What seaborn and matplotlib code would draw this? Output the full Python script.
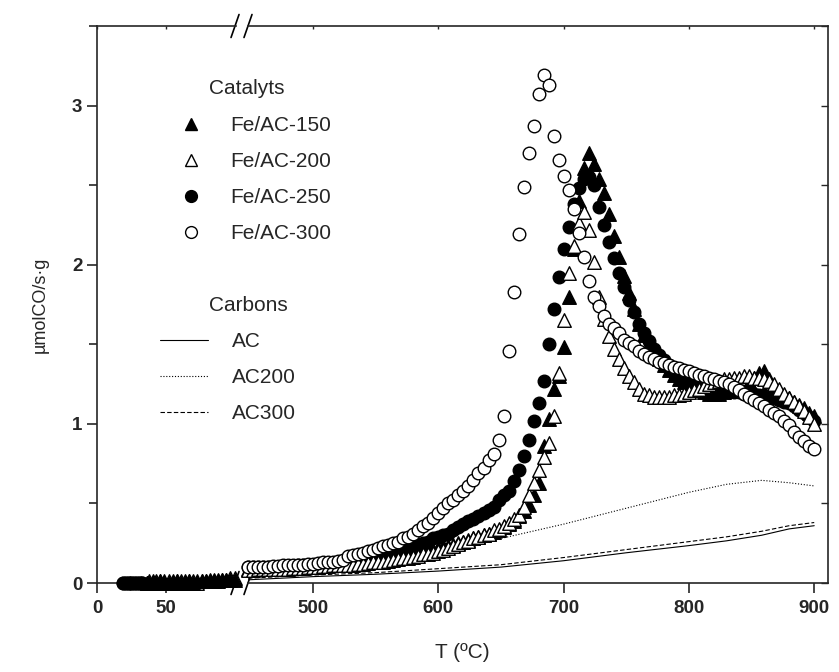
import matplotlib
matplotlib.use("Agg")
import matplotlib.pyplot as plt
from matplotlib.lines import Line2D
from matplotlib.ticker import MultipleLocator
import seaborn as sns

# ---- data ------------------------------------------------------------------
# low-temperature segment (left of the axis break)
T_LOW_TRI = [36, 38, 41, 43, 46, 49, 52, 55, 58, 61, 64, 67, 70, 73, 76, 79,
             82, 85, 88, 91, 94, 97, 100]
T_LOW_CIRC = [19, 21, 23, 25, 27, 29, 31, 33]

FE150_LOW = [0.0, 0.0, 0.01, 0.0, 0.01, 0.01, 0.0, 0.01, 0.01, 0.0, 0.01, 0.01,
             0.0, 0.01, 0.01, 0.01, 0.01, 0.02, 0.01, 0.02, 0.02, 0.02, 0.02]
FE200_LOW = [0.0, 0.01, 0.0, 0.01, 0.01, 0.0, 0.01, 0.0, 0.01, 0.01, 0.0, 0.01,
             0.01, 0.0, 0.01, 0.01, 0.02, 0.01, 0.02, 0.02, 0.02, 0.03, 0.03]
FE250_LOW = [0.0, 0.0, 0.0, 0.0, 0.0, 0.0, 0.0, 0.0]
FE300_LOW = [0.0, 0.0, 0.0, 0.0, 0.0, 0.0, 0.0, 0.0]

# high-temperature segment (right of the break), ºC
T_HIGH = [448, 452, 456, 460, 464, 468, 472, 476, 480, 484,
          488, 492, 496, 500, 504, 508, 512, 516, 520, 524,
          528, 532, 536, 540, 544, 548, 552, 556, 560, 564,
          568, 572, 576, 580, 584, 588, 592, 596, 600, 604,
          608, 612, 616, 620, 624, 628, 632, 636, 640, 644,
          648, 652, 656, 660, 664, 668, 672, 676, 680, 684,
          688, 692, 696, 700, 704, 708, 712, 716, 720, 724,
          728, 732, 736, 740, 744, 748, 752, 756, 760, 764,
          768, 772, 776, 780, 784, 788, 792, 796, 800, 804,
          808, 812, 816, 820, 824, 828, 832, 836, 840, 844,
          848, 852, 856, 860, 864, 868, 872, 876, 880, 884,
          888, 892, 896, 900]

FE150 = [0.09, 0.09, 0.09, 0.09, 0.09, 0.09, 0.095, 0.095, 0.095, 0.10,
         0.10, 0.10, 0.10, 0.105, 0.105, 0.11, 0.11, 0.11, 0.115, 0.115,
         0.12, 0.12, 0.125, 0.13, 0.13, 0.135, 0.14, 0.145, 0.15, 0.155,
         0.16, 0.165, 0.17, 0.18, 0.185, 0.19, 0.20, 0.21, 0.22, 0.23,
         0.23, 0.24, 0.25, 0.26, 0.27, 0.28, 0.29, 0.30, 0.31, 0.32,
         0.33, 0.35, 0.37, 0.39, 0.42, 0.45, 0.49, 0.55, 0.63, 0.86,
         1.03, 1.22, 1.30, 1.48, 1.80, 2.10, 2.40, 2.61, 2.70, 2.63,
         2.54, 2.45, 2.32, 2.18, 2.05, 1.93, 1.82, 1.72, 1.63, 1.56,
         1.50, 1.45, 1.41, 1.37, 1.34, 1.31, 1.28, 1.26, 1.24, 1.22,
         1.21, 1.20, 1.19, 1.19, 1.19, 1.20, 1.21, 1.22, 1.23, 1.25,
         1.27, 1.29, 1.32, 1.33, 1.28, 1.24, 1.21, 1.18, 1.16, 1.14,
         1.12, 1.10, 1.07, 1.05]

FE200 = [0.08, 0.08, 0.085, 0.085, 0.085, 0.09, 0.09, 0.09, 0.09, 0.095,
         0.095, 0.095, 0.10, 0.10, 0.10, 0.105, 0.105, 0.11, 0.11, 0.11,
         0.115, 0.115, 0.12, 0.12, 0.125, 0.13, 0.13, 0.135, 0.14, 0.145,
         0.15, 0.155, 0.16, 0.165, 0.17, 0.18, 0.185, 0.19, 0.20, 0.21,
         0.22, 0.235, 0.245, 0.255, 0.265, 0.28, 0.29, 0.30, 0.31, 0.33,
         0.34, 0.36, 0.38, 0.40, 0.43, 0.48, 0.55, 0.63, 0.71, 0.79,
         0.88, 1.05, 1.32, 1.65, 1.95, 2.12, 2.26, 2.33, 2.22, 2.02,
         1.80, 1.66, 1.55, 1.47, 1.41, 1.35, 1.30, 1.26, 1.22, 1.19,
         1.18, 1.17, 1.17, 1.17, 1.17, 1.18, 1.18, 1.19, 1.20, 1.21,
         1.22, 1.24, 1.25, 1.26, 1.27, 1.28, 1.28, 1.29, 1.29, 1.30,
         1.30, 1.29, 1.29, 1.28, 1.27, 1.25, 1.22, 1.19, 1.16, 1.14,
         1.11, 1.08, 1.04, 1.00]

FE250 = [0.10, 0.10, 0.10, 0.10, 0.10, 0.10, 0.10, 0.105, 0.105, 0.105,
         0.11, 0.11, 0.11, 0.115, 0.115, 0.12, 0.12, 0.125, 0.13, 0.13,
         0.135, 0.14, 0.145, 0.15, 0.155, 0.16, 0.165, 0.17, 0.18, 0.19,
         0.20, 0.21, 0.22, 0.23, 0.24, 0.25, 0.26, 0.28, 0.29, 0.30,
         0.31, 0.33, 0.35, 0.37, 0.39, 0.40, 0.42, 0.44, 0.46, 0.48,
         0.52, 0.55, 0.58, 0.64, 0.71, 0.80, 0.90, 1.02, 1.13, 1.27,
         1.50, 1.72, 1.92, 2.10, 2.24, 2.38, 2.48, 2.54, 2.55, 2.50,
         2.36, 2.25, 2.14, 2.04, 1.95, 1.86, 1.78, 1.70, 1.63, 1.57,
         1.52, 1.47, 1.43, 1.40, 1.37, 1.34, 1.32, 1.30, 1.28, 1.26,
         1.25, 1.24, 1.23, 1.22, 1.21, 1.21, 1.20, 1.20, 1.20, 1.19,
         1.19, 1.19, 1.18, 1.18, 1.17, 1.16, 1.15, 1.14, 1.13, 1.11,
         1.09, 1.07, 1.04, 1.02]

FE300 = [0.10, 0.10, 0.10, 0.10, 0.10, 0.105, 0.105, 0.11, 0.11, 0.11,
         0.115, 0.115, 0.12, 0.12, 0.125, 0.13, 0.13, 0.135, 0.14, 0.145,
         0.17, 0.175, 0.18, 0.19, 0.20, 0.21, 0.22, 0.23, 0.24, 0.25,
         0.26, 0.28, 0.29, 0.31, 0.33, 0.36, 0.38, 0.41, 0.44, 0.47,
         0.50, 0.52, 0.55, 0.58, 0.61, 0.65, 0.69, 0.72, 0.77, 0.81,
         0.90, 1.05, 1.46, 1.83, 2.19, 2.49, 2.70, 2.87, 3.07, 3.19,
         3.13, 2.81, 2.66, 2.56, 2.47, 2.35, 2.20, 2.05, 1.90, 1.80,
         1.74, 1.68, 1.63, 1.60, 1.57, 1.53, 1.51, 1.49, 1.46, 1.44,
         1.42, 1.41, 1.39, 1.38, 1.37, 1.36, 1.35, 1.34, 1.33, 1.32,
         1.31, 1.30, 1.29, 1.28, 1.27, 1.26, 1.25, 1.23, 1.21, 1.19,
         1.17, 1.15, 1.13, 1.11, 1.09, 1.07, 1.05, 1.02, 0.99, 0.95,
         0.92, 0.89, 0.86, 0.84]

# bare carbons (lines)
CARBON_T = [448, 500, 550, 600, 650, 700, 750, 800, 830, 858, 880, 900]
AC = [0.02, 0.04, 0.055, 0.075, 0.10, 0.14, 0.19, 0.235, 0.265, 0.30, 0.34, 0.36]
AC200 = [0.04, 0.07, 0.11, 0.17, 0.28, 0.37, 0.47, 0.57, 0.62, 0.645, 0.63, 0.61]
AC300 = [0.03, 0.05, 0.065, 0.09, 0.115, 0.16, 0.21, 0.26, 0.29, 0.325, 0.36, 0.38]

# ---- styling ----------------------------------------------------------------
sns.set_style("ticks")
plt.rcParams["font.family"] = ["Liberation Sans", "DejaVu Sans"]
plt.rcParams["axes.linewidth"] = 1.2

W, H = 839, 672
fig = plt.figure(figsize=(W / 100, H / 100), dpi=100)
bottom, top = 1 - 583 / H, 1 - 26 / H
ax_lo = fig.add_axes([97 / W, bottom, (236 - 97) / W, top - bottom])
ax_hi = fig.add_axes([248 / W, bottom, (828 - 248) / W, top - bottom])

# (label, low T, low values, high values, marker, face)
catalysts = [
    ("Fe/AC-150", T_LOW_TRI, FE150_LOW, FE150, "^", "black"),
    ("Fe/AC-200", T_LOW_TRI, FE200_LOW, FE200, "^", "white"),
    ("Fe/AC-250", T_LOW_CIRC, FE250_LOW, FE250, "o", "black"),
    ("Fe/AC-300", T_LOW_CIRC, FE300_LOW, FE300, "o", "white"),
]
# drawing order: open markers over filled ones on the right,
# filled circles on top at the low-temperature end
hi_order = [0, 2, 1, 3]
lo_order = [3, 1, 0, 2]
for z, i in enumerate(lo_order):
    label, t_lo, v_lo, v_hi, marker, face = catalysts[i]
    size = 95 if marker == "^" else 82
    sns.scatterplot(x=t_lo, y=v_lo, ax=ax_lo, marker=marker, s=size,
                    color=face, edgecolor="black", linewidth=1.0,
                    clip_on=False, zorder=3 + z, legend=False)
for z, i in enumerate(hi_order):
    label, t_lo, v_lo, v_hi, marker, face = catalysts[i]
    size = 95 if marker == "^" else 82
    sns.scatterplot(x=T_HIGH, y=v_hi, ax=ax_hi, marker=marker, s=size,
                    color=face, edgecolor="black", linewidth=1.0,
                    clip_on=False, zorder=3 + z, legend=False)

carbons = [("AC", AC, "-"), ("AC200", AC200, (0, (1, 1.6))),
           ("AC300", AC300, (0, (4, 2)))]
for label, vals, ls in carbons:
    sns.lineplot(x=CARBON_T, y=vals, ax=ax_hi, color="black", linewidth=0.8,
                 linestyle=ls, zorder=2)

# ---- axes -------------------------------------------------------------------
for ax in (ax_lo, ax_hi):
    ax.set_ylim(0, 3.5)
    ax.set_xlabel("")
    ax.set_ylabel("")
    ax.tick_params(axis="x", which="major", direction="out", length=7,
                   width=1.2, labelsize=13.5, pad=5, top=False)

ax_lo.set_xlim(0, 101)
ax_lo.set_xticks([0, 50])
ax_lo.spines["right"].set_visible(False)
ax_lo.yaxis.set_major_locator(MultipleLocator(1))
ax_lo.yaxis.set_minor_locator(MultipleLocator(0.5))
ax_lo.tick_params(axis="y", which="both", direction="out", length=7,
                  width=1.2, labelsize=13.5, right=False)
ax_lo.tick_params(axis="y", which="minor", length=6)

ax_hi.set_xlim(448, 911)
ax_hi.set_xticks([500, 600, 700, 800, 900])
ax_hi.spines["left"].set_visible(False)
ax_hi.yaxis.set_major_locator(MultipleLocator(0.5))
ax_hi.tick_params(axis="y", which="both", left=False, labelleft=False,
                  right=True, direction="in", length=5, width=1.0)

for ax in (ax_lo, ax_hi):
    for lab in ax.get_xticklabels() + ax.get_yticklabels():
        lab.set_fontweight("bold")
# short inward ticks on the top spine
for ax in (ax_lo, ax_hi):
    sec = ax.secondary_xaxis("top")
    sec.set_xticks(ax.get_xticks())
    sec.tick_params(direction="in", length=2.5, width=1.0, labeltop=False)
    sec.spines["top"].set_visible(False)

# axis break marks "//" on bottom and top spines
kw = dict(color="black", linewidth=1.2, clip_on=False)
dx_lo, dx_hi, dy = 4 / 139, 4 / 580, 11.5 / 557
for y in (0, 1):
    ax_lo.plot([1 - dx_lo - 0.007, 1 + dx_lo - 0.007], [y - dy, y + dy],
               transform=ax_lo.transAxes, **kw)
    ax_hi.plot([-dx_hi, dx_hi], [y - dy, y + dy],
               transform=ax_hi.transAxes, **kw)

fig.text(462 / W, 1 - 652 / H, "T (ºC)", ha="center", va="center", fontsize=15)
fig.text(40 / W, 1 - 305 / H, "µmolCO/s·g", ha="center", va="center",
         rotation=90, fontsize=13)

# ---- legends ----------------------------------------------------------------
fs = 15
fig.text(209 / W, 1 - 88 / H, "Catalyts", fontsize=fs, va="center")
fig.text(209 / W, 1 - 305 / H, "Carbons", fontsize=fs, va="center")

cat_handles = [Line2D([], [], ls="none", marker=m, markersize=8.5,
                      markerfacecolor=f, markeredgecolor="black",
                      markeredgewidth=1.0, label=l)
               for l, _, _, _, m, f in catalysts]
leg1 = fig.legend(handles=cat_handles, loc="upper left",
                  bbox_to_anchor=(167 / W, 1 - 116 / H), frameon=False,
                  fontsize=fs, handlelength=2.3, handletextpad=0.76,
                  labelspacing=0.82, borderpad=0, borderaxespad=0)

carb_handles = [Line2D([], [], color="black", linewidth=0.8, linestyle=ls,
                       label=l) for l, _, ls in carbons]
leg2 = fig.legend(handles=carb_handles, loc="upper left",
                  bbox_to_anchor=(160 / W, 1 - 332 / H), frameon=False,
                  fontsize=fs, handlelength=2.3, handletextpad=1.16,
                  labelspacing=0.82, borderpad=0, borderaxespad=0)

fig.savefig("out.png", dpi=100)
